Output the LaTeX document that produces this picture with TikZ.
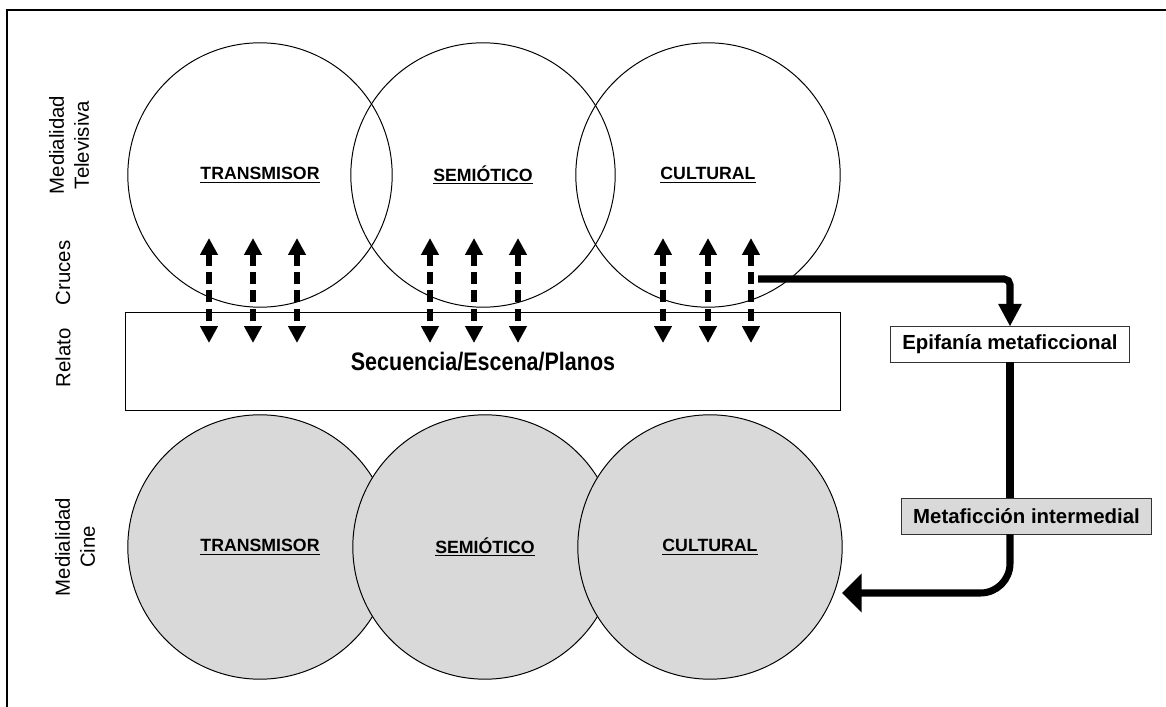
\documentclass[tikz,border=0pt]{standalone}
\usepackage{fontspec}
\setmainfont{Liberation Sans}
\usetikzlibrary{arrows.meta}
\tikzset{
  medio/.style={circle,draw,line width=0.7pt,minimum size=188pt,inner sep=0pt,font=\fontsize{12.6}{15}\selectfont\bfseries},
  cine/.style={medio,fill=black!15},
  eje/.style={rotate=90,align=center,font=\fontsize{14.5}{17.8}\selectfont},
  caja/.style={draw=black!80,line width=0.6pt,inner xsep=8.5pt,inner ysep=0pt,minimum height=25pt,font=\fontsize{14.5}{17}\selectfont\bfseries},
  cruce/.style={line width=4pt,dash pattern=on 8.5pt off 4.5pt,{Triangle[width=12pt,length=12pt]}-{Triangle[width=12pt,length=12pt]}},
  salto/.style={line width=5pt}
}
\begin{document}
\begin{tikzpicture}[x=0.025cm,y=-0.025cm]
      \clip (0,0) rectangle (1166,707);
      \draw[line width=2.1pt] (7,10) rectangle (1200,740);
      \node[eje] (tv) at (69,145) {Medialidad\\Televisiva};
      \node[eje] (cr) at (63,273) {Cruces};
      \node[eje] (re) at (63,358) {Relato};
      \node[eje] (ci) at (75,547) {Medialidad\\Cine};
      \draw
        (260,175) node[medio] (t1){\underline{TRANSMISOR}}
        (483,175) node[medio] (t2){\underline{SEMIÓTICO}}
        (708,175) node[medio] (t3){\underline{CULTURAL}};
      \node[draw,line width=0.7pt,minimum width=508pt,minimum height=69pt] (rel) at (483,361.5)
        {\fontsize{18}{20}\selectfont\bfseries\scalebox{0.85}[1]{Secuencia/Escena/Planos}};
      \draw
        (260,547) node[cine] (c1){\underline{TRANSMISOR}}
        (485,547) node[cine] (c2){\underline{SEMIÓTICO}}
        (710,547) node[cine] (c3){\underline{CULTURAL}};
      \path
        (209,238) coordinate (u1) (209,343) coordinate (d1)
        (253,238) coordinate (u2) (253,343) coordinate (d2)
        (297,238) coordinate (u3) (297,343) coordinate (d3)
        (430,238) coordinate (u4) (430,343) coordinate (d4)
        (474,238) coordinate (u5) (474,343) coordinate (d5)
        (518,238) coordinate (u6) (518,343) coordinate (d6)
        (663,238) coordinate (u7) (663,343) coordinate (d7)
        (708,238) coordinate (u8) (708,343) coordinate (d8)
        (751,238) coordinate (u9) (751,343) coordinate (d9);
      \begin{scope}[cruce]
        \draw (u1) to (d1);
        \draw (u2) to (d2);
        \draw (u3) to (d3);
        \draw (u4) to (d4);
        \draw (u5) to (d5);
        \draw (u6) to (d6);
        \draw (u7) to (d7);
        \draw (u8) to (d8);
        \draw (u9) to (d9);
      \end{scope}
      \node[caja] (epi) at (1010,344.5) {Epifanía metaficcional};
      \node[caja,fill=black!15] (meta) at (1026.5,516.5) {Metaficción intermedial};
      \coordinate (sal) at (758,279);
      \coordinate (vuelta) at (842,593);
      \begin{scope}[salto]
        \draw[-{Triangle[width=15.6pt,length=16pt]},rounded corners=4pt] (sal) -| (epi.north);
        \draw (epi.south) -- (epi.south |- meta.north);
        \draw[-{Triangle[width=27pt,length=14pt]},rounded corners=21pt] (epi.south |- meta.south) |- (vuelta);
      \end{scope}
    \end{tikzpicture}
\end{document}
